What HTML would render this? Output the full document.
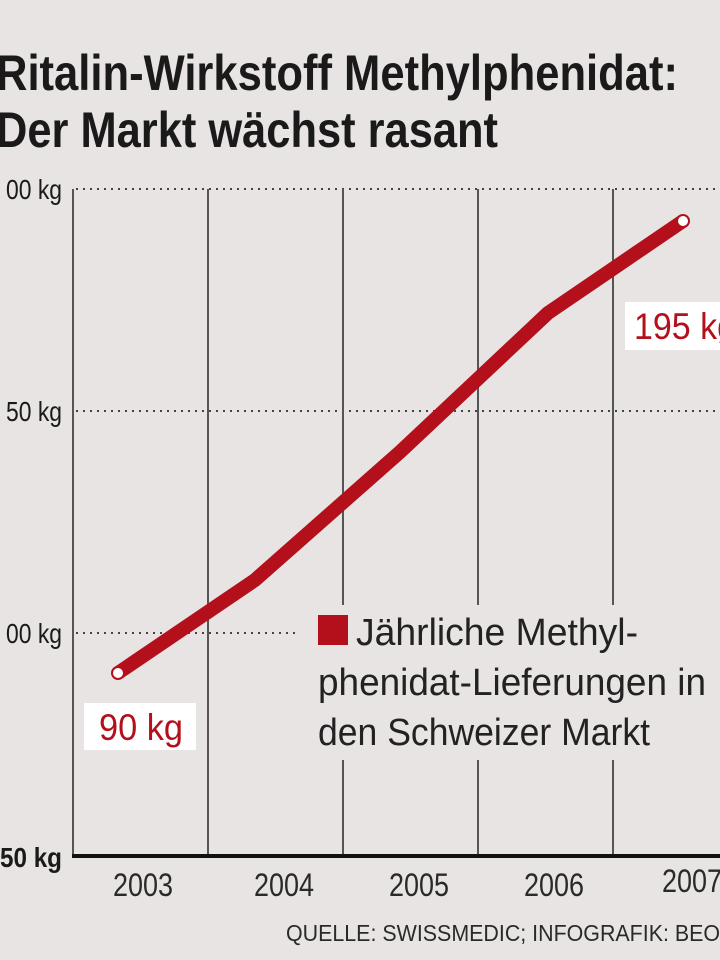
<!DOCTYPE html>
<html><head><meta charset="utf-8"><style>
html,body{margin:0;padding:0;background:#e7e4e3;}
svg{display:block}
text{font-family:"Liberation Sans",sans-serif;}
</style></head><body>
<svg width="720" height="960" viewBox="0 0 720 960" xmlns="http://www.w3.org/2000/svg">
<rect width="720" height="960" fill="#e7e4e3"/>
<text x="-4" y="90" font-size="50" font-weight="bold" fill="#1a1a1a" textLength="682" lengthAdjust="spacingAndGlyphs">Ritalin-Wirkstoff Methylphenidat:</text>
<text x="-4" y="147" font-size="50" font-weight="bold" fill="#1a1a1a" textLength="502" lengthAdjust="spacingAndGlyphs">Der Markt wächst rasant</text>
<g stroke="#444" stroke-width="2" stroke-dasharray="2 5">
<line x1="76" y1="189" x2="720" y2="189"/>
<line x1="76" y1="411" x2="720" y2="411"/>
<line x1="76" y1="633" x2="720" y2="633"/>
</g>
<g stroke="#555" stroke-width="2">
<line x1="73" y1="189" x2="73" y2="856"/>
<line x1="208" y1="189" x2="208" y2="856"/>
<line x1="343" y1="189" x2="343" y2="856"/>
<line x1="478" y1="189" x2="478" y2="856"/>
<line x1="613" y1="189" x2="613" y2="856"/>
</g>
<rect x="300" y="605" width="420" height="155" fill="#e7e4e3"/>
<line x1="72" y1="856" x2="720" y2="856" stroke="#111" stroke-width="4"/>
<g font-size="28" fill="#1a1a1a">
<text x="62" y="199" text-anchor="end" textLength="56" lengthAdjust="spacingAndGlyphs">00 kg</text>
<text x="62" y="421" text-anchor="end" textLength="56" lengthAdjust="spacingAndGlyphs">50 kg</text>
<text x="62" y="643" text-anchor="end" textLength="56" lengthAdjust="spacingAndGlyphs">00 kg</text>
<text x="62" y="867" text-anchor="end" font-weight="bold" textLength="62" lengthAdjust="spacingAndGlyphs">50 kg</text>
</g>
<g font-size="32" fill="#2a2a2a">
<text x="113" y="896" textLength="60" lengthAdjust="spacingAndGlyphs">2003</text>
<text x="254" y="896" textLength="60" lengthAdjust="spacingAndGlyphs">2004</text>
<text x="389" y="896" textLength="60" lengthAdjust="spacingAndGlyphs">2005</text>
<text x="524" y="896" textLength="60" lengthAdjust="spacingAndGlyphs">2006</text>
<text x="662" y="892" textLength="60" lengthAdjust="spacingAndGlyphs">2007</text>
</g>
<text x="286" y="941" font-size="23" fill="#2a2a2a" textLength="440" lengthAdjust="spacingAndGlyphs">QUELLE: SWISSMEDIC; INFOGRAFIK: BEO/</text>
<polyline points="118,673 255,580 400,452 548,313 683,221" fill="none" stroke="#b3101c" stroke-width="14" stroke-linejoin="round"/>
<circle cx="118" cy="673" r="6" fill="#fff" stroke="#b3101c" stroke-width="2"/>
<circle cx="683" cy="221" r="6" fill="#fff" stroke="#b3101c" stroke-width="2"/>
<rect x="84" y="703" width="112" height="47" fill="#fff"/>
<text x="99" y="740" font-size="37" fill="#b3101c" textLength="84" lengthAdjust="spacingAndGlyphs">90 kg</text>
<rect x="625" y="302" width="95" height="48" fill="#fff"/>
<text x="634" y="339" font-size="37" fill="#b3101c" textLength="102" lengthAdjust="spacingAndGlyphs">195 kg</text>
<rect x="318" y="615" width="30" height="30" fill="#b3101c"/>
<g font-size="38" fill="#222">
<text x="356" y="645" textLength="282" lengthAdjust="spacingAndGlyphs">Jährliche Methyl-</text>
<text x="318" y="695" textLength="388" lengthAdjust="spacingAndGlyphs">phenidat-Lieferungen in</text>
<text x="318" y="745" textLength="332" lengthAdjust="spacingAndGlyphs">den Schweizer Markt</text>
</g>
</svg>
</body></html>
